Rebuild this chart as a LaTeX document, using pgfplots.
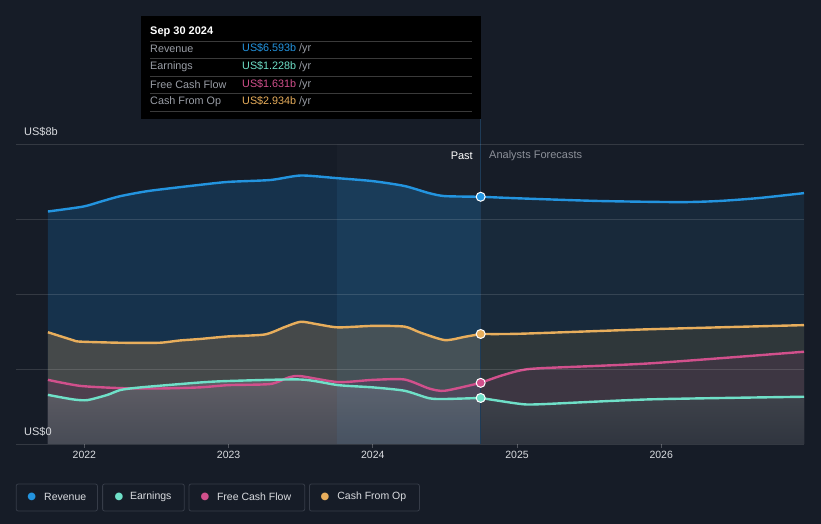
\documentclass[border=0pt]{standalone}
\usepackage{pgfplots}
\pgfplotsset{compat=1.18}
\usepackage{pgfplotstable}
\usepackage{fontspec}
\setmainfont{Liberation Sans}
\newfontfamily\dejavu{DejaVu Sans}
\definecolor{bg}{HTML}{161C27}
\definecolor{revcol}{HTML}{2394DF}
\definecolor{earncol}{HTML}{6FE0C8}
\definecolor{fcfcol}{HTML}{D1508C}
\definecolor{cfocol}{HTML}{E8AE5C}
\definecolor{revfillp}{HTML}{16324C}
\definecolor{revfillf}{HTML}{18293A}
\definecolor{cfofillp}{HTML}{45494A}
\definecolor{cfofillf}{HTML}{2F373A}
\definecolor{fcffillp}{HTML}{4E3F4E}
\definecolor{fcffillf}{HTML}{3D3642}
\definecolor{earntopp}{HTML}{605E66}
\definecolor{earnbotp}{HTML}{474B55}
\definecolor{earntopf}{HTML}{3E424A}
\definecolor{earnbotf}{HTML}{30353F}
\definecolor{vline}{HTML}{1E3B57}
\definecolor{ticktext}{HTML}{DADCE0}
\definecolor{labgray}{HTML}{9A9EA6}
\definecolor{sepgray}{HTML}{3A3A3A}
\definecolor{fcgray}{HTML}{8C9099}
\definecolor{boxborder}{HTML}{363C48}

\pgfplotstableread{
x y
2021.747 6.20
2021.99 6.33
2022.11 6.46
2022.25 6.61
2022.45 6.75
2022.80 6.91
2023.00 6.99
2023.29 7.04
2023.50 7.16
2023.75 7.09
2024.00 7.01
2024.22 6.88
2024.39 6.69
2024.50 6.61
2024.748 6.593
}\revpast
\pgfplotstableread{
x y
2024.748 6.593
2025.02 6.55
2025.57 6.48
2026.13 6.45
2026.40 6.48
2026.68 6.56
2026.99 6.69
}\revfc
\pgfplotstableread{
x y
2021.747 2.98
2021.92 2.77
2021.97 2.73
2022.25 2.70
2022.52 2.70
2022.66 2.76
2022.80 2.80
2023.00 2.87
2023.25 2.92
2023.39 3.12
2023.50 3.26
2023.62 3.19
2023.76 3.11
2024.00 3.15
2024.22 3.13
2024.33 2.97
2024.50 2.77
2024.64 2.86
2024.748 2.934
}\cfopast
\pgfplotstableread{
x y
2024.748 2.934
2025.02 2.94
2025.92 3.06
2026.99 3.17
}\cfofc
\pgfplotstableread{
x y
2021.747 1.71
2021.97 1.55
2022.25 1.49
2022.52 1.48
2022.80 1.51
2023.00 1.57
2023.29 1.60
2023.42 1.78
2023.50 1.81
2023.76 1.65
2024.00 1.71
2024.22 1.72
2024.39 1.48
2024.50 1.42
2024.748 1.631
}\fcfpast
\pgfplotstableread{
x y
2024.748 1.631
2024.88 1.81
2025.02 1.96
2025.16 2.02
2025.92 2.15
2026.99 2.46
}\fcffc
\pgfplotstableread{
x y
2021.747 1.31
2021.92 1.19
2022.02 1.17
2022.16 1.31
2022.25 1.44
2022.39 1.51
2022.80 1.64
2023.00 1.68
2023.50 1.72
2023.76 1.57
2024.00 1.51
2024.22 1.42
2024.39 1.22
2024.50 1.20
2024.748 1.228
}\earnpast
\pgfplotstableread{
x y
2024.748 1.228
2025.02 1.07
2025.16 1.06
2025.92 1.19
2026.99 1.26
}\earnfc

\begin{document}
\begin{tikzpicture}[x=1pt,y=1pt]
\useasboundingbox (0,0) rectangle (821,524);
\fill[bg] (0,0) rectangle (821,524);
\begin{axis}[
  at={(16.2pt,80pt)}, anchor=south west,
  scale only axis, width=787.8pt, height=300pt,
  xmin=2021.527, xmax=2026.99, ymin=0, ymax=8,
  clip=false, axis on top,
  axis line style={draw=none},
  ytick={0,2,4,6,8}, yticklabels={}, ytick style={draw=none},
  ymajorgrids, grid style={white, opacity=0.13, line width=0.8pt},
  xtick={2022,2023,2024,2025,2026},
  xticklabels={2022,2023,2024,2025,2026},
  xtick pos=bottom, tick align=outside, major tick length=4pt,
  xtick style={draw=white, opacity=0.25, line width=0.8pt},
  xticklabel style={font=\fontsize{10.5}{12}\selectfont, text=ticktext},
  every axis plot/.append style={smooth, tension=0.4},
]
% fills past
\addplot[draw=none, fill=revfillp] table {\revpast} \closedcycle;
\addplot[draw=none, fill=cfofillp] table {\cfopast} \closedcycle;
\addplot[draw=none, fill=fcffillp] table {\fcfpast} \closedcycle;
\addplot[draw=none, top color=earntopp, bottom color=earnbotp] table {\earnpast} \closedcycle;
% fills forecast
\addplot[draw=none, fill=revfillf] table {\revfc} \closedcycle;
\addplot[draw=none, fill=cfofillf] table {\cfofc} \closedcycle;
\addplot[draw=none, fill=fcffillf] table {\fcffc} \closedcycle;
\addplot[draw=none, top color=earntopf, bottom color=earnbotf] table {\earnfc} \closedcycle;
% highlight band
\fill[white, opacity=0.018] (axis cs:2023.75,0) rectangle (axis cs:2024.748,8);
\addplot[draw=none, fill=revcol, fill opacity=0.07, restrict x to domain=2023.74:2024.76] table {\revpast} \closedcycle;
% vertical marker line
\draw[vline, line width=1.5pt] (axis cs:2024.748,0) -- (axis cs:2024.748,8.67);
% lines
\addplot[revcol, line width=2.4pt] table {\revpast};
\addplot[revcol, line width=2.4pt] table {\revfc};
\addplot[cfocol, line width=2.4pt] table {\cfopast};
\addplot[cfocol, line width=2.4pt] table {\cfofc};
\addplot[fcfcol, line width=2.4pt] table {\fcfpast};
\addplot[fcfcol, line width=2.4pt] table {\fcffc};
\addplot[earncol, line width=2.4pt] table {\earnpast};
\addplot[earncol, line width=2.4pt] table {\earnfc};
% markers
\addplot[only marks, mark=*, mark size=4.5pt, mark options={fill=revcol, draw=white, line width=1pt}] coordinates {(2024.748,6.593)};
\addplot[only marks, mark=*, mark size=4.5pt, mark options={fill=cfocol, draw=white, line width=1pt}] coordinates {(2024.748,2.934)};
\addplot[only marks, mark=*, mark size=4.5pt, mark options={fill=fcfcol, draw=white, line width=1pt}] coordinates {(2024.748,1.631)};
\addplot[only marks, mark=*, mark size=4.5pt, mark options={fill=earncol, draw=white, line width=1pt}] coordinates {(2024.748,1.228)};
\end{axis}

% y labels
\node[anchor=west, text=ticktext, font=\fontsize{11}{13}\selectfont, inner sep=0] at (24,392) {US\$8b};
\node[anchor=west, text=ticktext, font=\fontsize{11}{13}\selectfont, inner sep=0] at (24,92) {US\$0};
% past / forecast
\node[anchor=east, text=white, font=\fontsize{11}{13}\selectfont, inner sep=0] at (473,368) {Past};
\node[anchor=west, text=fcgray, font=\fontsize{11}{13}\selectfont, inner sep=0] at (489,368) {Analysts Forecasts};

% tooltip
\fill[black] (141,405) rectangle (481,508);
\node[anchor=west, text=white, font=\bfseries\fontsize{11}{13}\selectfont, inner sep=0] at (150,492) {Sep 30 2024};
\foreach \yy in {483,466,448,431,413} {\draw[sepgray, line width=0.8pt] (150,\yy) -- (472,\yy);}
\begin{scope}[every node/.style={anchor=west, inner sep=0, font=\fontsize{10.8}{13}\selectfont}]
\node[text=labgray] at (150,475.5) {Revenue};
\node[text=labgray] at (150,457.5) {Earnings};
\node[text=labgray] at (150,439.5) {Free Cash Flow};
\node[text=labgray] at (150,422.5) {Cash From Op};
\node at (242,475.5) {\textcolor{revcol}{US\$6.593b} \textcolor{labgray}{/yr}};
\node at (242,457.5) {\textcolor{earncol}{US\$1.228b} \textcolor{labgray}{/yr}};
\node at (242,439.5) {\textcolor{fcfcol}{US\$1.631b} \textcolor{labgray}{/yr}};
\node at (242,422.5) {\textcolor{cfocol}{US\$2.934b} \textcolor{labgray}{/yr}};
\end{scope}

% legend
\begin{scope}[every node/.style={anchor=west, inner sep=0}]
\draw[boxborder, line width=0.8pt, rounded corners=2pt] (16.2,13) rectangle (97.4,40);
\draw[boxborder, line width=0.8pt, rounded corners=2pt] (102.6,13) rectangle (184.3,40);
\draw[boxborder, line width=0.8pt, rounded corners=2pt] (189,13) rectangle (304.7,40);
\draw[boxborder, line width=0.8pt, rounded corners=2pt] (309.4,13) rectangle (419.4,40);
\node[text=revcol, font=\dejavu\fontsize{10}{10}\selectfont] at (27.2,27.5) {●};
\node[text=earncol, font=\dejavu\fontsize{10}{10}\selectfont] at (114.5,27.5) {●};
\node[text=fcfcol, font=\dejavu\fontsize{10}{10}\selectfont] at (200.4,27.5) {●};
\node[text=cfocol, font=\dejavu\fontsize{10}{10}\selectfont] at (320.3,27.5) {●};
\node[text=ticktext, font=\fontsize{10.5}{12}\selectfont] at (44,27.5) {Revenue};
\node[text=ticktext, font=\fontsize{10.5}{12}\selectfont] at (129.8,27.5) {Earnings};
\node[text=ticktext, font=\fontsize{10.5}{12}\selectfont] at (216.8,27.5) {Free Cash Flow};
\node[text=ticktext, font=\fontsize{10.5}{12}\selectfont] at (337.2,27.5) {Cash From Op};
\end{scope}
\end{tikzpicture}
\end{document}
